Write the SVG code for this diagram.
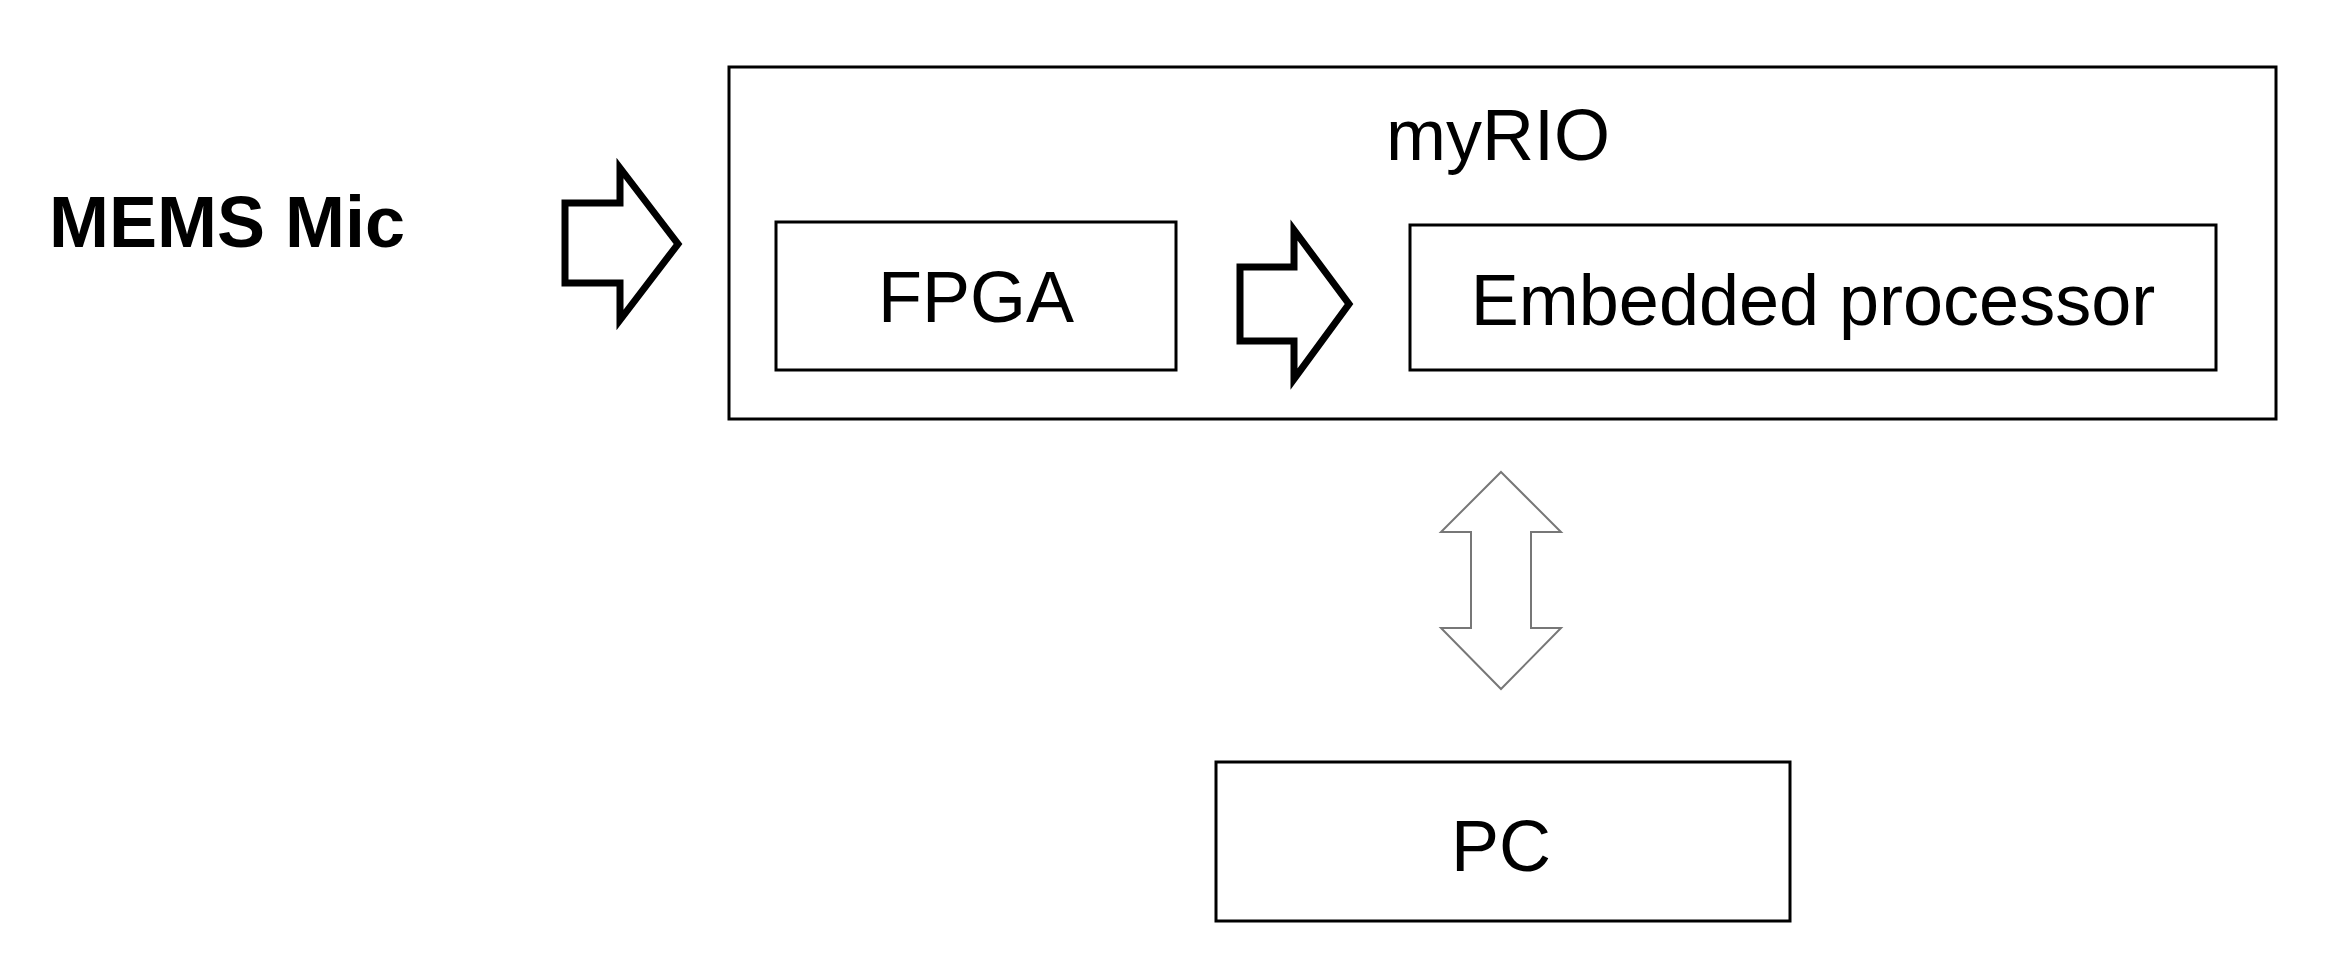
<svg xmlns="http://www.w3.org/2000/svg" width="2337" height="968" viewBox="0 0 2337 968">
<style>
.box{fill:#fff;stroke:#000;stroke-width:3}
.t{font-family:"Liberation Sans",Arial,sans-serif;font-size:72px;fill:#000;text-anchor:middle}
.ar{fill:#fff;stroke:#000;stroke-width:7;stroke-linejoin:miter}
.dar{fill:#fff;stroke:#777;stroke-width:2}
</style>
<rect width="2337" height="968" fill="#fff"/>
<g id="mems"><text x="49" y="247" style="font-family:'Liberation Sans',Arial,sans-serif;font-size:72px;font-weight:bold">MEMS Mic</text></g>
<g id="myrio"><rect class="box" x="729" y="67" width="1547" height="352"/><text class="t" x="1498" y="160">myRIO</text></g>
<g id="fpga"><rect class="box" x="776" y="222" width="400" height="148"/><text class="t" x="976" y="322">FPGA</text></g>
<g id="embedded"><rect class="box" x="1410" y="225" width="806" height="145"/><text class="t" x="1813" y="325">Embedded processor</text></g>
<g id="pc"><rect class="box" x="1216" y="762" width="574" height="159"/><text class="t" x="1501" y="871">PC</text></g>
<g id="connectors">
<polygon class="ar" points="565,203 620,203 620,168 678,244 620,320 620,283 565,283"/>
<polygon class="ar" points="1240,267 1294,267 1294,230 1349,304 1294,379 1294,341 1240,341"/>
<polygon class="dar" points="1501,472 1561,532 1531,532 1531,628 1561,628 1501,689 1441,628 1471,628 1471,532 1441,532"/>
</g>
</svg>
